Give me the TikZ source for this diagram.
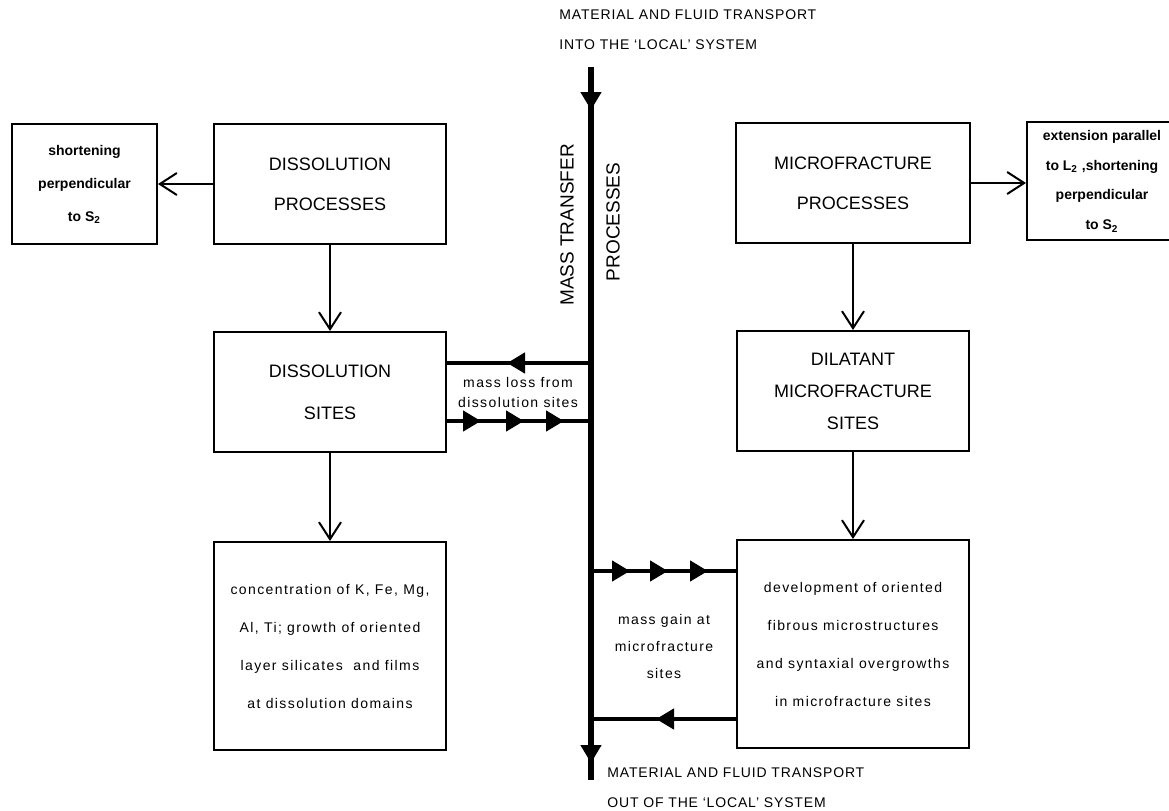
\documentclass[tikz,border=0pt]{standalone}
\usepackage{fontspec}
\setmainfont{Liberation Sans}
\newfontfamily\spaced[LetterSpace=10]{Liberation Sans}
\newfontfamily\capspaced[LetterSpace=6]{Liberation Sans}
\usetikzlibrary{arrows.meta,decorations.markings}

\begin{document}
\begin{tikzpicture}[x=0.5pt,y=-0.5pt]
  \tikzstyle{box}=[draw,line width=1pt,minimum width=116pt,minimum height=60pt,align=center]
  \tikzstyle{caps}=[font=\fontsize{9}{20}\selectfont]
  \tikzstyle{note}=[font=\spaced\fontsize{7}{19}\selectfont]
  \tikzstyle{side}=[draw,line width=1pt,minimum width=72.5pt,minimum height=60pt,align=center,font=\bfseries\fontsize{7}{16.5}\selectfont]
  \tikzstyle{link}=[line width=1pt,-{Straight Barb[length=8.5pt,width=11pt]}]
  \tikzstyle{flow}=[line width=2.2pt]
  \tikzset{tip at/.style={postaction={decorate,decoration={markings,mark=at position #1 with {\arrow{Triangle[length=9pt,width=10pt]}}}}}}
  \useasboundingbox (0,0) rectangle (1169,810);

  % dissolution side
  \node[box,caps] (dp) at (330,184) {DISSOLUTION\\PROCESSES};
  \node[box,caps,font=\fontsize{9}{21}\selectfont] (ds) at (330,392) {DISSOLUTION\\SITES};
  \node[box,note,minimum height=104pt] (dc) at (330,646)
    {concentration of K, Fe, Mg,\\Al, Ti; growth of oriented\\layer silicates\ \ and films\\at dissolution domains};
  \node[side] (sl) at (84.5,184) {shortening\\perpendicular\\to S\textsubscript{2}};

  % microfracture side
  \node[box,caps,minimum width=117pt] (mp) at (853,183) {MICROFRACTURE\\PROCESSES};
  \node[box,caps,font=\fontsize{9}{16}\selectfont] (dm) at (853,391) {DILATANT\\MICROFRACTURE\\SITES};
  \node[box,note,minimum height=104pt] (fm) at (853,644)
    {development of oriented\\fibrous microstructures\\and syntaxial overgrowths\\in microfracture sites};
  \node[side,minimum width=75pt,minimum height=59pt,font=\bfseries\fontsize{7}{15}\selectfont] (sr) at (1102,181)
    {extension parallel\\to L\textsubscript{2}\ ,shortening\\perpendicular\\to S\textsubscript{2}};

  \draw[link] (dp) -- (sl);
  \draw[link] (mp.east) -- (mp.east -| sr.west);
  \draw[link] (dp) -- (ds);
  \draw[link] (ds) -- (dc);
  \draw[link] (mp) -- (dm);
  \draw[link] (dm) -- (fm);

  % mass transfer line
  \coordinate (in) at (591,67);
  \coordinate (out) at (591,780);
  \draw[line width=2.6pt,tip at=21.5pt,tip at=-8.5pt] (in) -- (out);

  \coordinate (lossA) at ([yshift=14.5pt]ds.east);
  \coordinate (lossB) at ([yshift=-14.5pt]ds.east);
  \draw[flow,tip at=42pt] (lossA -| in) -- (lossA);
  \draw[flow,tip at=17pt,tip at=38.5pt,tip at=58.5pt] (lossB) -- (lossB -| in);
  \coordinate (gainA) at ([yshift=36.5pt]fm.west);
  \coordinate (gainB) at ([yshift=-37.5pt]fm.west);
  \draw[flow,tip at=19.5pt,tip at=38.5pt,tip at=58.5pt] (gainA -| in) -- (gainA);
  \draw[flow,tip at=40pt] (gainB) -- (gainB -| in);

  \node[font=\spaced\fontsize{7}{10}\selectfont,align=center] (loss) at (518,392) {mass loss from\\dissolution sites};
  \node[font=\spaced\fontsize{7}{13.5}\selectfont,align=center] (gain) at (664,646) {mass gain at\\microfracture\\sites};
  \node[rotate=90,font=\fontsize{9.5}{11}\selectfont] (mt) at (567,225) {MASS TRANSFER};
  \node[rotate=90,font=\fontsize{9.5}{11}\selectfont] (pr) at (613,222) {PROCESSES};
  \node[anchor=north west,inner sep=0pt,align=left,font=\capspaced\fontsize{7}{15}\selectfont] (into) at (559,9)
    {MATERIAL AND FLUID TRANSPORT\\INTO THE ‘LOCAL’ SYSTEM};
  \node[anchor=north west,inner sep=0pt,align=left,font=\capspaced\fontsize{7}{15}\selectfont] (outof) at (607,767)
    {MATERIAL AND FLUID TRANSPORT\\OUT OF THE ‘LOCAL’ SYSTEM};
\end{tikzpicture}
\end{document}
